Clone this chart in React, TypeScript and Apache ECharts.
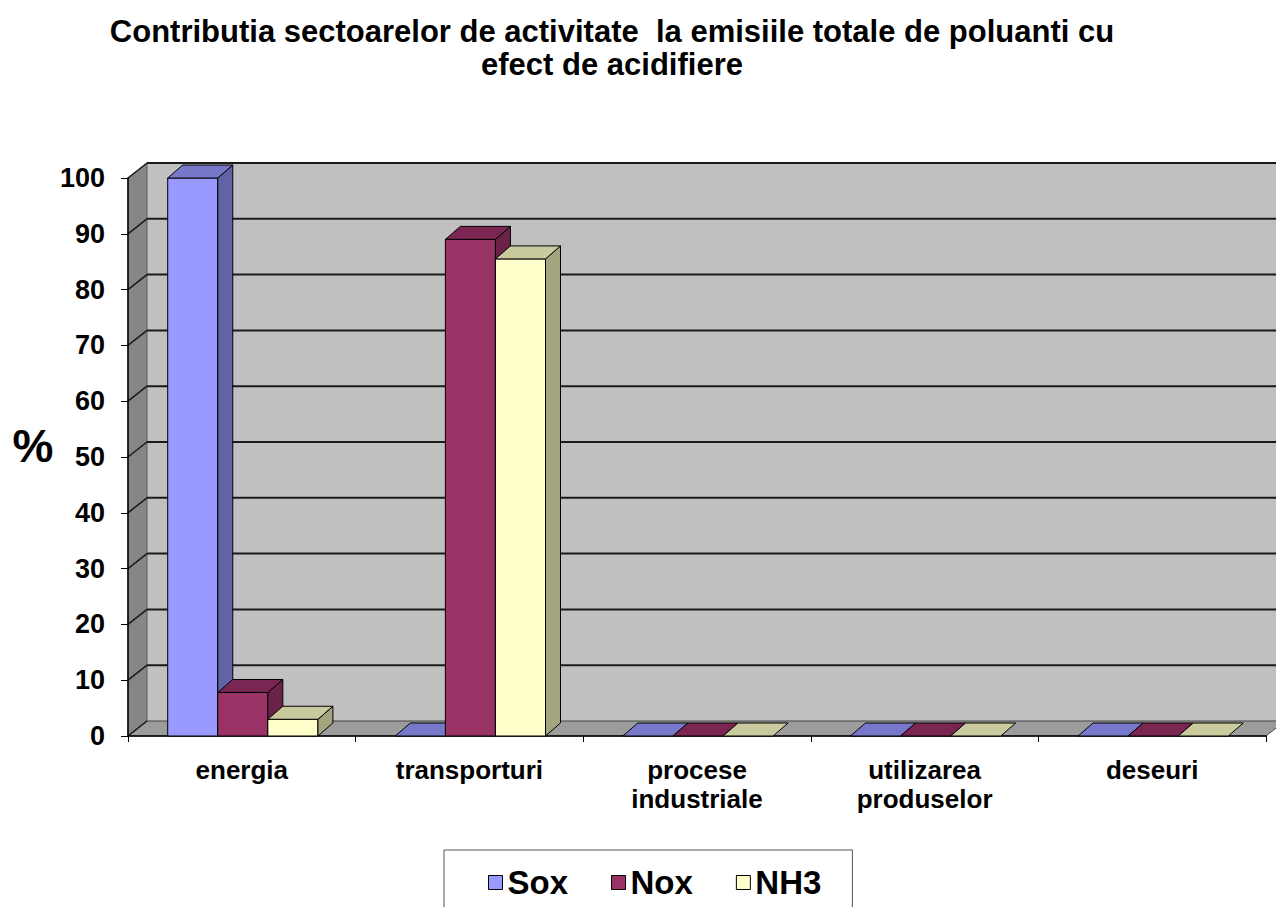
import React, { useEffect, useRef } from "react";
import * as echarts from "echarts";

const categories = ["energia", "transporturi", "procese\nindustriale", "utilizarea\nproduselor", "deseuri"];
const seriesNames = ["Sox", "Nox", "NH3"];
const soxValues = [100, 0, 0, 0, 0];
const noxValues = [7.8, 89, 0, 0, 0];
const nh3Values = [3, 85.5, 0, 0, 0];
const yTicks = [0, 10, 20, 30, 40, 50, 60, 70, 80, 90, 100];
const titleText = "Contributia sectoarelor de activitate  la emisiile totale de poluanti cu\nefect de acidifiere";
const yAxisName = "%";

const palette = [
  { front: "#9999FF", side: "#6262A6", top: "#7878CA" },
  { front: "#993366", side: "#6B2247", top: "#7A2552" },
  { front: "#FFFFCC", side: "#A4A47F", top: "#CACA9F" },
];

const FONT = "'Liberation Sans', Arial, Helvetica, sans-serif";
const WALL_DX = 19;
const WALL_DY = 15;
const BAR_DX = 15;
const BAR_DY = 13;

function makeBarRender(sIdx: number) {
  return (params: any, api: any) => {
    const cat = api.value(0);
    const val = api.value(1);
    const base = api.coord([cat, 0]);
    const topPt = api.coord([cat, val]);
    const band = api.size([1, 0])[0];
    const bw = band * 0.22;
    const x0 = base[0] + (sIdx - 1.5) * bw + 1;
    const x1 = x0 + bw;
    const y0 = base[1];
    const y1 = topPt[1];
    const c = palette[sIdx];
    const stroke = { stroke: "#000", lineWidth: 1, lineJoin: "round" };
    const children: any[] = [];
    if (y0 - y1 > 0.5) {
      children.push({
        type: "rect",
        shape: { x: x0, y: y1, width: bw, height: y0 - y1 },
        style: { fill: c.front, ...stroke },
      });
      children.push({
        type: "polygon",
        shape: { points: [[x1, y1], [x1 + BAR_DX, y1 - BAR_DY], [x1 + BAR_DX, y0 - BAR_DY], [x1, y0]] },
        style: { fill: c.side, ...stroke },
      });
    }
    children.push({
      type: "polygon",
      shape: { points: [[x0, y1], [x0 + BAR_DX, y1 - BAR_DY], [x1 + BAR_DX, y1 - BAR_DY], [x1, y1]] },
      style: { fill: c.top, ...stroke },
    });
    return { type: "group", children };
  };
}

function renderWalls(params: any, api: any) {
  const cs = params.coordSys;
  const x = cs.x;
  const y = cs.y;
  const w = cs.width;
  const h = cs.height;
  const yb = y + h;
  const children: any[] = [];
  children.push({
    type: "rect",
    shape: { x: x + WALL_DX, y: y - WALL_DY, width: w, height: h },
    style: { fill: "#C0C0C0" },
  });
  children.push({
    type: "polygon",
    shape: { points: [[x, y], [x + WALL_DX, y - WALL_DY], [x + WALL_DX, yb - WALL_DY], [x, yb]] },
    style: { fill: "#868686", stroke: "#5a5a5a", lineWidth: 1 },
  });
  children.push({
    type: "polygon",
    shape: { points: [[x, yb], [x + WALL_DX, yb - WALL_DY], [x + w + WALL_DX, yb - WALL_DY], [x + w, yb]] },
    style: { fill: "#9C9C9C", stroke: "#444", lineWidth: 1 },
  });
  yTicks.forEach((v) => {
    const yy = api.coord([0, v])[1];
    if (v > 0) {
      children.push({
        type: "line",
        shape: { x1: x + WALL_DX, y1: yy - WALL_DY, x2: x + w + WALL_DX, y2: yy - WALL_DY },
        style: { stroke: "#1a1a1a", lineWidth: 2 },
      });
    }
    children.push({
      type: "line",
      shape: { x1: x, y1: yy, x2: x + WALL_DX, y2: yy - WALL_DY },
      style: { stroke: "#1a1a1a", lineWidth: 1.5 },
    });
  });
  return { type: "group", children };
}

export default function App() {
  const ref = useRef<HTMLDivElement>(null);
  useEffect(() => {
    document.body.style.margin = "0";
    const chart = echarts.init(ref.current!, null, { renderer: "svg" });
    const valueSets = [soxValues, noxValues, nh3Values];
    const barSeries = seriesNames.map((name, i) => ({
      type: "custom",
      name,
      z: 3 + i,
      itemStyle: { color: palette[i].front },
      encode: { x: 0, y: 1 },
      data: valueSets[i].map((v, k) => [k, v]),
      renderItem: makeBarRender(i),
    }));
    chart.setOption({
      animation: false,
      backgroundColor: "#ffffff",
      graphic: [
        {
          type: "text",
          x: 612,
          y: 15,
          style: {
            text: titleText,
            font: `bold 31px ${FONT}`,
            fill: "#000",
            textAlign: "center",
            textVerticalAlign: "top",
            lineHeight: 33,
          },
        },
        {
          type: "text",
          x: 33,
          y: 446,
          style: {
            text: yAxisName,
            font: `bold 46px ${FONT}`,
            fill: "#000",
            textAlign: "center",
            textVerticalAlign: "middle",
          },
        },
      ],
      legend: {
        left: 444,
        top: 850,
        orient: "horizontal",
        data: seriesNames,
        icon: "rect",
        itemWidth: 14,
        itemHeight: 14,
        itemGap: 43,
        padding: [16, 31, 30, 44],
        borderColor: "#555",
        borderWidth: 1,
        itemStyle: { borderColor: "#000", borderWidth: 1 },
        textStyle: { fontFamily: FONT, fontWeight: "bold", fontSize: 33, color: "#000", lineHeight: 32 },
      },
      grid: { left: 128, right: 10, top: 178, bottom: 171, containLabel: false },
      xAxis: {
        type: "category",
        data: categories,
        axisLine: { show: true, lineStyle: { color: "#000", width: 1.5 } },
        axisTick: { show: true, length: 6, lineStyle: { color: "#000" } },
        axisLabel: {
          margin: 19,
          fontFamily: FONT,
          fontWeight: "bold",
          fontSize: 26,
          color: "#000",
          lineHeight: 29,
          interval: 0,
        },
        splitLine: { show: false },
      },
      yAxis: {
        type: "value",
        min: 0,
        max: 100,
        interval: 10,
        axisLine: { show: true, lineStyle: { color: "#000", width: 1.5 } },
        axisTick: { show: true, length: 7, lineStyle: { color: "#000" } },
        axisLabel: {
          margin: 23,
          fontFamily: FONT,
          fontWeight: "bold",
          fontSize: 27,
          color: "#000",
        },
        splitLine: { show: false },
      },
      series: [
        {
          type: "custom",
          name: "walls",
          z: -1,
          silent: true,
          data: [[0, 0]],
          encode: { x: 0, y: 1 },
          renderItem: renderWalls,
        },
        ...barSeries,
      ],
    });
    return () => chart.dispose();
  }, []);
  return <div ref={ref} style={{ width: 1276, height: 907 }} />;
}
